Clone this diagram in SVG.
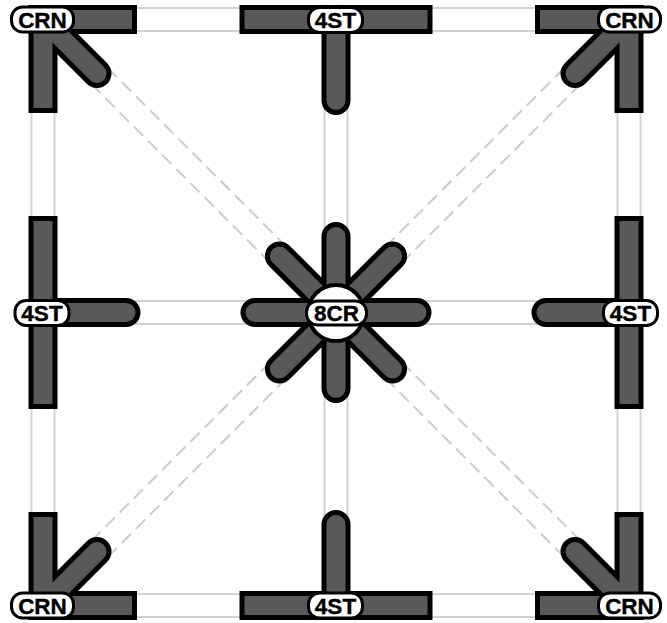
<svg xmlns="http://www.w3.org/2000/svg" width="667" height="623" viewBox="0 0 667 623">
<style>
.edge{stroke:#d2d2d2;stroke-width:25;fill:none}
.dash{stroke:#cccccc;stroke-dasharray:13 7}
.inner{stroke:#fff;stroke-width:21;fill:none}
.ol{stroke:#000;stroke-width:29;fill:none}
.fl{stroke:#595959;stroke-width:19;fill:none}
.sq{stroke-linecap:square}
.rd{stroke-linecap:round}
.pill{fill:#fff;stroke:#000;stroke-width:3}
.lbl{font-family:"Liberation Sans",Arial,sans-serif;font-weight:bold;font-size:22.5px;text-anchor:middle;fill:#000;stroke:#000;stroke-width:0.4}
</style>
<rect width="667" height="623" fill="#fff"/>
<g id="connectors">
  <g class="edge">
    <line x1="43" y1="19.5" x2="336" y2="19.5"/>
    <line x1="336" y1="19.5" x2="629" y2="19.5"/>
    <line x1="43" y1="605.5" x2="336" y2="605.5"/>
    <line x1="336" y1="605.5" x2="629" y2="605.5"/>
    <line x1="43" y1="19.5" x2="43" y2="312.5"/>
    <line x1="43" y1="312.5" x2="43" y2="605.5"/>
    <line x1="629" y1="19.5" x2="629" y2="312.5"/>
    <line x1="629" y1="312.5" x2="629" y2="605.5"/>
    <line x1="43" y1="312.5" x2="336" y2="312.5"/>
    <line x1="336" y1="312.5" x2="629" y2="312.5"/>
    <line x1="336" y1="19.5" x2="336" y2="312.5"/>
    <line x1="336" y1="312.5" x2="336" y2="605.5"/>
    <line class="dash" x1="43" y1="19.5" x2="336" y2="312.5"/>
    <line class="dash" x1="629" y1="19.5" x2="336" y2="312.5"/>
    <line class="dash" x1="43" y1="605.5" x2="336" y2="312.5"/>
    <line class="dash" x1="629" y1="605.5" x2="336" y2="312.5"/>
  </g>
  <g class="inner">
    <line x1="43" y1="19.5" x2="629" y2="19.5"/>
    <line x1="43" y1="605.5" x2="629" y2="605.5"/>
    <line x1="43" y1="19.5" x2="43" y2="605.5"/>
    <line x1="629" y1="19.5" x2="629" y2="605.5"/>
    <line x1="43" y1="312.5" x2="629" y2="312.5"/>
    <line x1="336" y1="19.5" x2="336" y2="605.5"/>
    <line x1="43" y1="19.5" x2="629" y2="605.5"/>
    <line x1="629" y1="19.5" x2="43" y2="605.5"/>
  </g>
</g>

<g id="crn-tl">
  <g class="ol"><path class="sq" d="M43 19.5H122.5M43 19.5V98.5"/><path class="rd" d="M43 19.5L97 73.5"/></g>
  <g class="fl"><path class="sq" d="M43 19.5H122.5M43 19.5V98.5"/><path class="rd" d="M43 19.5L97 73.5"/></g>
  <rect class="pill" x="11.5" y="7" width="62" height="25" rx="11"/>
  <text class="lbl" x="42.5" y="27.5">CRN</text>
</g>
<g id="crn-tr">
  <g class="ol"><path class="sq" d="M629 19.5H549.5M629 19.5V98.5"/><path class="rd" d="M629 19.5L575 73.5"/></g>
  <g class="fl"><path class="sq" d="M629 19.5H549.5M629 19.5V98.5"/><path class="rd" d="M629 19.5L575 73.5"/></g>
  <rect class="pill" x="598.5" y="7" width="62" height="25" rx="11"/>
  <text class="lbl" x="629.5" y="27.5">CRN</text>
</g>
<g id="crn-bl">
  <g class="ol"><path class="sq" d="M43 605.5H122.5M43 605.5V526.5"/><path class="rd" d="M43 605.5L97 551.5"/></g>
  <g class="fl"><path class="sq" d="M43 605.5H122.5M43 605.5V526.5"/><path class="rd" d="M43 605.5L97 551.5"/></g>
  <rect class="pill" x="11.5" y="593" width="62" height="25" rx="11"/>
  <text class="lbl" x="42.5" y="613.5">CRN</text>
</g>
<g id="crn-br">
  <g class="ol"><path class="sq" d="M629 605.5H549.5M629 605.5V526.5"/><path class="rd" d="M629 605.5L575 551.5"/></g>
  <g class="fl"><path class="sq" d="M629 605.5H549.5M629 605.5V526.5"/><path class="rd" d="M629 605.5L575 551.5"/></g>
  <rect class="pill" x="598.5" y="593" width="62" height="25" rx="11"/>
  <text class="lbl" x="629.5" y="613.5">CRN</text>
</g>

<g id="st-top">
  <g class="ol"><path class="sq" d="M254 19.5H418"/><path class="rd" d="M336 19.5V100.5"/></g>
  <g class="fl"><path class="sq" d="M254 19.5H418"/><path class="rd" d="M336 19.5V100.5"/></g>
  <rect class="pill" x="308.5" y="7.5" width="54" height="25" rx="11"/>
  <text class="lbl" x="335.5" y="28">4ST</text>
</g>
<g id="st-bottom">
  <g class="ol"><path class="sq" d="M254 605.5H418"/><path class="rd" d="M336 605.5V524.5"/></g>
  <g class="fl"><path class="sq" d="M254 605.5H418"/><path class="rd" d="M336 605.5V524.5"/></g>
  <rect class="pill" x="308.5" y="593" width="54" height="25" rx="11"/>
  <text class="lbl" x="335.5" y="613.5">4ST</text>
</g>
<g id="st-left">
  <g class="ol"><path class="sq" d="M43 230.5V394.5"/><path class="rd" d="M43 312.5H126"/></g>
  <g class="fl"><path class="sq" d="M43 230.5V394.5"/><path class="rd" d="M43 312.5H126"/></g>
  <rect class="pill" x="15" y="300.5" width="54" height="25" rx="11"/>
  <text class="lbl" x="42" y="321">4ST</text>
</g>
<g id="st-right">
  <g class="ol"><path class="sq" d="M629 230.5V394.5"/><path class="rd" d="M629 312.5H546"/></g>
  <g class="fl"><path class="sq" d="M629 230.5V394.5"/><path class="rd" d="M629 312.5H546"/></g>
  <rect class="pill" x="603.5" y="300.5" width="54" height="25" rx="11"/>
  <text class="lbl" x="630.5" y="321">4ST</text>
</g>

<g id="cr-center">
  <g class="ol rd"><path d="M255 312.5H417M336 236.5V388.5M279.4 255.9L392.6 369.1M392.6 255.9L279.4 369.1"/></g>
  <g class="fl rd"><path d="M255 312.5H417M336 236.5V388.5M279.4 255.9L392.6 369.1M392.6 255.9L279.4 369.1"/></g>
  <circle cx="336" cy="313" r="28" fill="#fff" stroke="#000" stroke-width="4"/>
  <rect class="pill" x="306.5" y="301" width="60" height="24" rx="11"/>
  <text class="lbl" x="336.5" y="321">8CR</text>
</g>
</svg>
